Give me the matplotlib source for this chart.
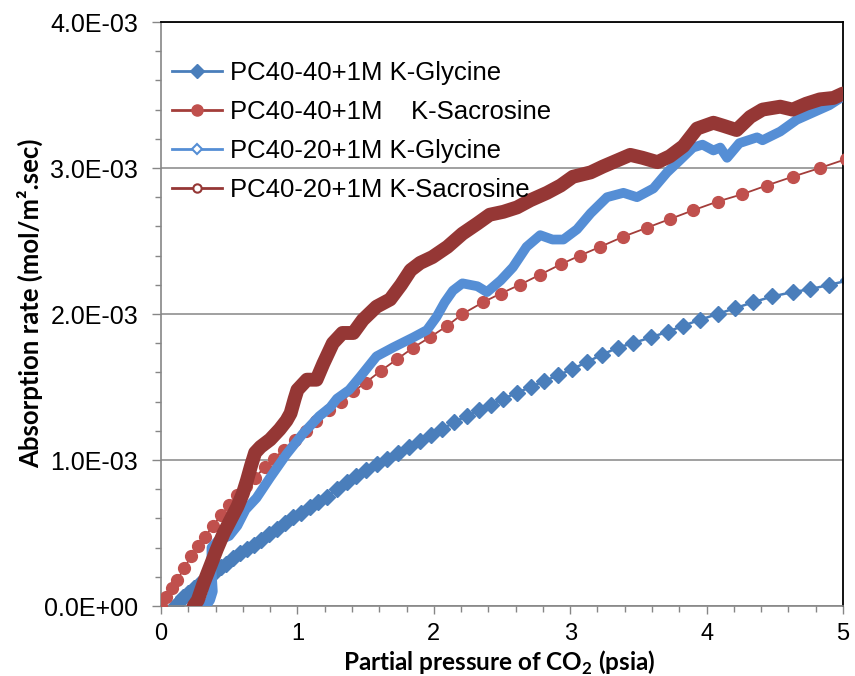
import numpy as np
import matplotlib
matplotlib.use("Agg")
from matplotlib import pyplot as plt
from matplotlib.lines import Line2D
from matplotlib.ticker import MultipleLocator, FuncFormatter

# PC40-40+1M K-Glycine (absorption rate in 1E-03 mol/m2.sec)
gly40_x = [0.10, 0.13, 0.16, 0.20, 0.24, 0.28, 0.32, 0.36, 0.40, 0.44, 0.48, 0.53, 0.58, 0.63,
           0.68, 0.73, 0.79, 0.85, 0.91, 0.97, 1.03, 1.09, 1.15, 1.22, 1.29, 1.36, 1.43, 1.50,
           1.58, 1.66, 1.74, 1.82, 1.90, 1.98, 2.06, 2.15, 2.24, 2.33, 2.42, 2.51, 2.61, 2.71,
           2.81, 2.91, 3.01, 3.12, 3.23, 3.35, 3.46, 3.59, 3.72, 3.83, 3.95, 4.08, 4.21, 4.34,
           4.48, 4.63, 4.76, 4.90, 5.04]
gly40_y = [0.00, 0.03, 0.06, 0.09, 0.12, 0.15, 0.18, 0.21, 0.24, 0.27, 0.29, 0.33, 0.36, 0.39,
           0.42, 0.45, 0.49, 0.53, 0.57, 0.61, 0.64, 0.68, 0.71, 0.75, 0.80, 0.85, 0.89, 0.93,
           0.97, 1.01, 1.05, 1.09, 1.13, 1.17, 1.21, 1.26, 1.30, 1.34, 1.38, 1.42, 1.46, 1.50,
           1.54, 1.58, 1.62, 1.67, 1.72, 1.77, 1.80, 1.84, 1.88, 1.92, 1.96, 2.00, 2.04, 2.08,
           2.12, 2.15, 2.17, 2.20, 2.23]

# PC40-40+1M K-Sacrosine
sar40_x = [0.00, 0.04, 0.08, 0.12, 0.17, 0.22, 0.27, 0.32, 0.38, 0.44, 0.50, 0.56, 0.62, 0.69,
           0.76, 0.83, 0.90, 0.98, 1.06, 1.14, 1.23, 1.32, 1.41, 1.50, 1.61, 1.73, 1.85, 1.97,
           2.10, 2.21, 2.36, 2.49, 2.63, 2.78, 2.93, 3.07, 3.22, 3.39, 3.56, 3.73, 3.90, 4.08,
           4.26, 4.44, 4.63, 4.83, 5.02]
sar40_y = [0.00, 0.06, 0.12, 0.18, 0.26, 0.34, 0.41, 0.47, 0.55, 0.62, 0.69, 0.76, 0.82, 0.88,
           0.95, 1.01, 1.07, 1.14, 1.20, 1.27, 1.34, 1.40, 1.47, 1.53, 1.61, 1.69, 1.77, 1.84,
           1.92, 2.00, 2.08, 2.14, 2.20, 2.27, 2.34, 2.40, 2.46, 2.53, 2.59, 2.65, 2.71, 2.77,
           2.82, 2.88, 2.94, 3.00, 3.06]

# PC40-20+1M K-Glycine
gly20_x = [0.33, 0.36, 0.38, 0.37, 0.37, 0.42, 0.50, 0.56, 0.62, 0.70, 0.80, 0.92, 1.04, 1.16,
           1.24, 1.29, 1.38, 1.46, 1.58, 1.70, 1.85, 1.95, 2.02, 2.08, 2.14, 2.21, 2.32, 2.39,
           2.49, 2.58, 2.68, 2.78, 2.87, 2.95, 3.05, 3.15, 3.27, 3.39, 3.49, 3.61, 3.71, 3.80,
           3.90, 3.97, 4.05, 4.10, 4.15, 4.24, 4.37, 4.41, 4.54, 4.66, 4.78, 4.90, 5.00]
gly20_y = [0.00, 0.04, 0.10, 0.25, 0.40, 0.45, 0.48, 0.55, 0.66, 0.74, 0.88, 1.04, 1.18, 1.30,
           1.36, 1.42, 1.48, 1.57, 1.71, 1.77, 1.84, 1.89, 1.98, 2.08, 2.16, 2.21, 2.19, 2.15,
           2.23, 2.32, 2.46, 2.54, 2.51, 2.51, 2.58, 2.69, 2.80, 2.83, 2.80, 2.86, 2.97, 3.05,
           3.14, 3.16, 3.12, 3.14, 3.07, 3.17, 3.21, 3.19, 3.25, 3.33, 3.38, 3.43, 3.49]

# PC40-20+1M K-Sacrosine
sar20_x = [0.24, 0.27, 0.31, 0.36, 0.41, 0.46, 0.51, 0.56, 0.60, 0.63, 0.66, 0.69, 0.73, 0.80,
           0.87, 0.92, 0.95, 0.98, 1.00, 1.07, 1.14, 1.19, 1.26, 1.33, 1.41, 1.48, 1.58, 1.68,
           1.76, 1.83, 1.90, 1.99, 2.10, 2.21, 2.32, 2.41, 2.51, 2.61, 2.71, 2.83, 2.93, 3.02,
           3.15, 3.24, 3.34, 3.44, 3.53, 3.64, 3.73, 3.83, 3.93, 4.05, 4.12, 4.22, 4.32, 4.41,
           4.54, 4.63, 4.73, 4.83, 4.93, 5.00]
sar20_y = [0.00, 0.04, 0.15, 0.27, 0.39, 0.50, 0.59, 0.68, 0.77, 0.86, 0.96, 1.05, 1.09, 1.14,
           1.21, 1.27, 1.32, 1.42, 1.48, 1.55, 1.55, 1.66, 1.80, 1.87, 1.87, 1.96, 2.05, 2.10,
           2.20, 2.30, 2.35, 2.39, 2.46, 2.55, 2.62, 2.68, 2.70, 2.73, 2.78, 2.83, 2.88, 2.94,
           2.97, 3.01, 3.05, 3.09, 3.07, 3.04, 3.08, 3.15, 3.27, 3.31, 3.29, 3.26, 3.35, 3.40,
           3.42, 3.40, 3.44, 3.47, 3.48, 3.51]

labels = ['PC40-40+1M K-Glycine', 'PC40-40+1M    K-Sacrosine',
          'PC40-20+1M K-Glycine', 'PC40-20+1M K-Sacrosine']

blue = '#4A7EBB'
red = '#C0504D'
red_line = '#A33D3A'
light_blue = '#558ED5'
dark_red = '#953735'
grey = '#868686'

plt.rcParams['font.family'] = ['Liberation Sans', 'DejaVu Sans']
plt.rcParams['mathtext.fontset'] = 'custom'
plt.rcParams['mathtext.rm'] = 'Lato'
plt.rcParams['mathtext.bf'] = 'Lato:bold'

fig = plt.figure(figsize=(8.55, 6.76), dpi=100)
ax = fig.add_axes([161 / 855, 70 / 676, 682 / 855, 584 / 676])

scale = 1e-3
ax.plot(gly40_x, np.array(gly40_y) * scale, color=blue, lw=1.8, marker='D', ms=8.2,
        mec=blue, mfc=blue, zorder=2)
ax.plot(sar40_x, np.array(sar40_y) * scale, color=red_line, lw=1.3, marker='o', ms=8.5,
        mec=red, mfc=red, zorder=3)
ax.plot(gly20_x, np.array(gly20_y) * scale, color=light_blue, lw=7, solid_capstyle='round',
        solid_joinstyle='round', zorder=4)
ax.plot(sar20_x, np.array(sar20_y) * scale, color=dark_red, lw=10, solid_capstyle='round',
        solid_joinstyle='round', zorder=5)

ax.set_xlim(0, 5)
ax.set_ylim(0, 4e-3)
ax.xaxis.set_major_locator(MultipleLocator(1))
ax.xaxis.set_minor_locator(MultipleLocator(0.2))
ax.yaxis.set_major_locator(MultipleLocator(1e-3))
ax.yaxis.set_minor_locator(MultipleLocator(0.2e-3))
ax.yaxis.set_major_formatter(FuncFormatter(lambda v, p: f'{v:.1E}'))
ax.xaxis.set_major_formatter(FuncFormatter(lambda v, p: f'{v:.0f}'))

ax.grid(axis='y', which='major', color=grey, lw=1.1, zorder=0)
ax.set_axisbelow(True)
for s in ['left', 'bottom']:
    ax.spines[s].set_color(grey)
    ax.spines[s].set_linewidth(1.2)
for s in ['top', 'right']:
    ax.spines[s].set_color('black')
    ax.spines[s].set_linewidth(1.3)

ax.tick_params(axis='both', which='both', direction='out', color=grey, width=1.0)
ax.tick_params(axis='y', which='major', length=6.5, pad=10, labelsize=18)
ax.tick_params(axis='y', which='minor', length=4.5)
ax.tick_params(axis='x', which='major', length=5.5, pad=7, labelsize=17)
ax.tick_params(axis='x', which='minor', length=4.5)

fig.text(30 / 855, 1 - 303 / 676, 'Absorption rate (mol/m².sec)',
         rotation=90, ha='center', va='center', fontsize=18.5, fontweight='bold',
         family=['Lato', 'DejaVu Sans'])
fig.text(499 / 855, 1 - 663 / 676, r'Partial pressure of CO$_\mathbf{2}$ (psia)',
         ha='center', va='center', fontsize=17.5, fontweight='bold',
         family=['Lato', 'DejaVu Sans'])

handles = [
    Line2D([], [], color=blue, lw=2, marker='D', ms=7, mfc=blue, mec=blue),
    Line2D([], [], color=red_line, lw=2, marker='o', ms=8, mfc=red, mec=red),
    Line2D([], [], color=light_blue, lw=2, marker='D', ms=5, mfc='white', mec=light_blue,
           mew=1.5),
    Line2D([], [], color=dark_red, lw=2, marker='o', ms=6, mfc='white', mec=dark_red,
           mew=1.5),
]
leg = ax.legend(handles, labels, loc='upper left', bbox_to_anchor=(0.016, 0.933),
                frameon=False, fontsize=18.5, borderpad=0, borderaxespad=0,
                handlelength=1.95, handletextpad=0.3, labelspacing=0.58)
leg.set_zorder(10)

fig.savefig('out.png', dpi=100)
